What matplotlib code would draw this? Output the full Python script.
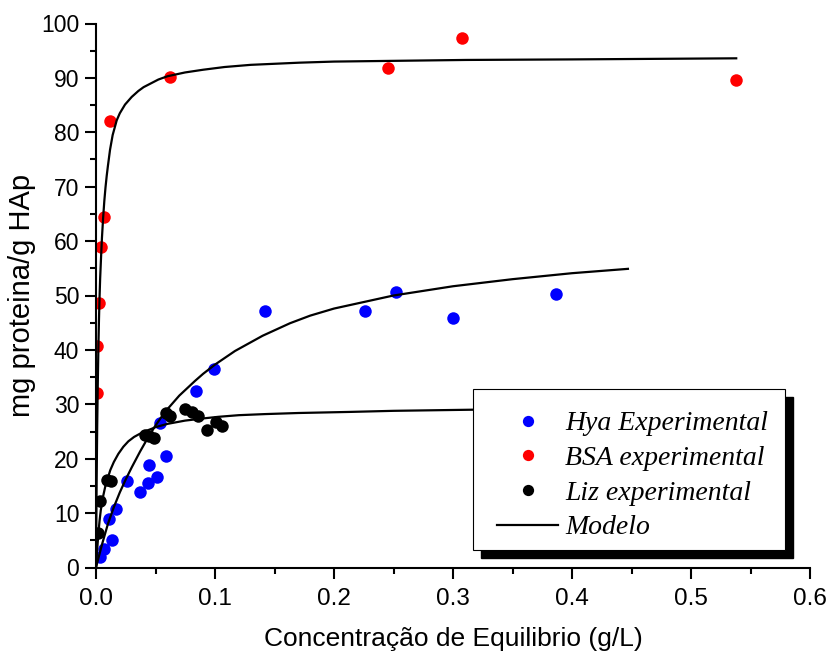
import matplotlib
matplotlib.use("Agg")
import matplotlib.pyplot as plt
from matplotlib.patches import Rectangle
from matplotlib.ticker import MultipleLocator, FormatStrFormatter

# experimental points
hya_x = [0.0034, 0.0067, 0.011, 0.0132, 0.0165, 0.0263, 0.037, 0.044, 0.0445,
         0.0515, 0.054, 0.0585, 0.084, 0.0994, 0.1423, 0.226, 0.252, 0.300, 0.3866]
hya_y = [2.0, 3.4, 8.9, 5.0, 10.7, 15.9, 13.9, 15.5, 18.8,
         16.6, 26.5, 20.5, 32.5, 36.4, 47.1, 47.1, 50.6, 45.8, 50.3]

bsa_x = [0.0011, 0.0011, 0.0025, 0.0042, 0.0065, 0.0118, 0.0622, 0.245, 0.3076, 0.538]
bsa_y = [32.1, 40.8, 48.6, 58.9, 64.5, 82.0, 90.1, 91.9, 97.4, 89.6]

liz_x = [0.0014, 0.0034, 0.009, 0.0126, 0.0412, 0.0445, 0.0487, 0.0588, 0.0622,
         0.0748, 0.081, 0.086, 0.0934, 0.1008, 0.1056]
liz_y = [6.4, 12.3, 16.0, 15.9, 24.4, 24.1, 23.8, 28.4, 27.8,
         29.1, 28.6, 27.8, 25.2, 26.7, 26.1]

# model curves
bsa_mx = [0, 0.0005, 0.001, 0.0015, 0.002, 0.0025, 0.003, 0.0035, 0.0042, 0.005,
          0.006, 0.007, 0.008, 0.009, 0.01, 0.0118, 0.014, 0.0174, 0.02, 0.0244,
          0.03, 0.0356, 0.04, 0.0524, 0.06, 0.0748, 0.09, 0.108, 0.13, 0.171,
          0.2, 0.311, 0.4, 0.538]
bsa_my = [0, 15.0, 25.9, 33.8, 40.4, 45.6, 49.8, 53.2, 56.8, 60.6,
          64.3, 67.4, 69.9, 72.0, 73.8, 76.8, 79.5, 82.2, 83.5, 85.1,
          86.5, 87.6, 88.3, 89.7, 90.3, 91.0, 91.5, 92.0, 92.4, 92.8,
          93.0, 93.3, 93.4, 93.6]

hya_mx = [0, 0.005, 0.01, 0.015, 0.02, 0.025, 0.03, 0.037, 0.044, 0.05, 0.058,
          0.07, 0.0832, 0.09, 0.1, 0.1168, 0.14, 0.163, 0.18, 0.2, 0.25, 0.3,
          0.35, 0.4, 0.447]
hya_my = [0, 4.2, 8.0, 11.1, 13.8, 16.2, 18.4, 21.3, 24.0, 26.1, 28.6,
          31.6, 34.3, 35.6, 37.3, 39.8, 42.6, 44.9, 46.3, 47.6, 50.0, 51.7,
          53.0, 54.1, 54.9]

liz_mx = [0, 0.001, 0.002, 0.003, 0.004, 0.0061, 0.008, 0.0103, 0.012, 0.015,
          0.0188, 0.023, 0.0272, 0.032, 0.037, 0.042, 0.0468, 0.05, 0.06, 0.0748,
          0.09, 0.1028, 0.12, 0.142, 0.17, 0.2134, 0.25, 0.3143, 0.38, 0.45]
liz_my = [0, 3.3, 6.3, 8.6, 10.5, 13.2, 15.1, 16.7, 17.9, 19.4,
          20.9, 22.2, 23.2, 24.0, 24.6, 25.1, 25.5, 25.8, 26.4, 27.0,
          27.4, 27.7, 28.0, 28.2, 28.4, 28.6, 28.8, 29.0, 29.2, 29.3]

plt.rcParams['font.family'] = ['Liberation Sans', 'DejaVu Sans']

W, H = 830, 654
fig = plt.figure(figsize=(8.3, 6.54), dpi=100)
ax = fig.add_axes([96 / W, 1 - 567.5 / H, (810 - 96) / W, (567.5 - 23.5) / H])

ms = 9
ax.plot(hya_x, hya_y, 'o', color='#0000ff', ms=ms, mec='none', label='Hya Experimental')
ax.plot(bsa_x, bsa_y, 'o', color='#ff0000', ms=ms, mec='none', label='BSA experimental')
ax.plot(liz_x, liz_y, 'o', color='black', ms=ms, mec='none', label='Liz experimental')
ax.plot(bsa_mx, bsa_my, '-', color='black', lw=1.6, label='Modelo')
ax.plot(hya_mx, hya_my, '-', color='black', lw=1.6)
ax.plot(liz_mx, liz_my, '-', color='black', lw=1.6)

ax.set_xlim(0, 0.6)
ax.set_ylim(0, 100)
ax.xaxis.set_major_locator(MultipleLocator(0.1))
ax.xaxis.set_minor_locator(MultipleLocator(0.05))
ax.yaxis.set_major_locator(MultipleLocator(10))
ax.yaxis.set_minor_locator(MultipleLocator(5))
ax.xaxis.set_major_formatter(FormatStrFormatter('%.1f'))

for s in ['top', 'right']:
    ax.spines[s].set_visible(False)
for s in ['left', 'bottom']:
    ax.spines[s].set_linewidth(1.5)
ax.tick_params(which='major', direction='out', length=8, width=1.5)
ax.tick_params(which='minor', direction='out', length=4.5, width=1.5)
ax.tick_params(axis='x', which='major', labelsize=17.5, pad=7)
ax.tick_params(axis='y', which='major', labelsize=16.5, pad=4)

ax.set_xlabel('Concentração de Equilibrio (g/L)', fontsize=19, labelpad=12)
ax.set_ylabel('mg proteina/g HAp', fontsize=21, labelpad=4)

# legend box with solid shadow
lx0, ly0, lx1, ly1 = 473, 389, 785, 550
off = 8
fig.patches.append(Rectangle(((lx0 + off) / W, 1 - (ly1 + off) / H), (lx1 - lx0) / W,
                             (ly1 - ly0) / H, transform=fig.transFigure,
                             fc='black', ec='black', zorder=3))
fig.patches.append(Rectangle((lx0 / W, 1 - ly1 / H), (lx1 - lx0) / W, (ly1 - ly0) / H,
                             transform=fig.transFigure, fc='white', ec='black',
                             lw=0.8, zorder=4))
leg = fig.legend(loc='upper left', bbox_to_anchor=(497 / W, 1 - 411 / H),
                 frameon=False, prop={'family': 'Liberation Serif', 'style': 'italic', 'size': 20},
                 handlelength=2.2, handletextpad=0.25, labelspacing=0.33,
                 borderpad=0, borderaxespad=0, markerscale=0.9)
leg.set_zorder(5)

fig.savefig('out.png', dpi=100)
